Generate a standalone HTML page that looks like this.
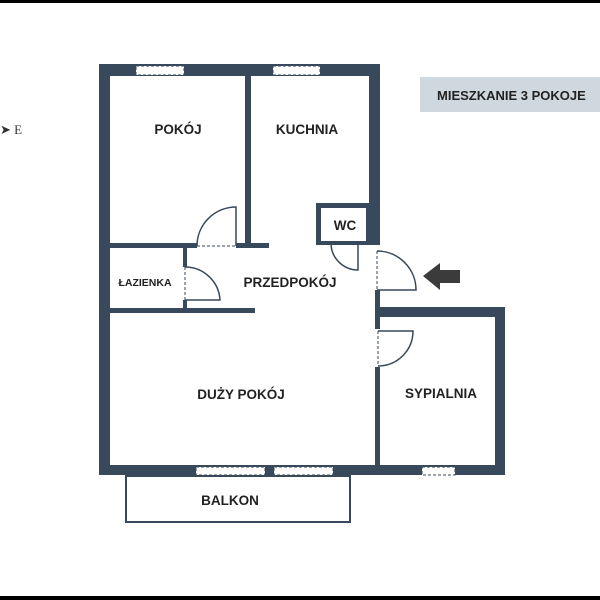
<!DOCTYPE html>
<html><head><style>body{margin:0;background:#fff}svg{display:block}</style></head><body>
<svg width="600" height="600" viewBox="0 0 600 600" xmlns="http://www.w3.org/2000/svg" font-family="Liberation Sans, sans-serif">
<rect width="600" height="600" fill="#fff"/>
<rect x="0" y="0" width="600" height="3" fill="#000"/>
<rect x="0" y="596" width="600" height="4" fill="#000"/>
<g fill="#37495a">
<rect x="99" y="64" width="281" height="12"/>
<rect x="99" y="64" width="11" height="411"/>
<rect x="369" y="64" width="11" height="181"/>
<rect x="375" y="290" width="5" height="185"/>
<rect x="375" y="307" width="130" height="10"/>
<rect x="495" y="307" width="10" height="168"/>
<rect x="99" y="465" width="406" height="10"/>
<rect x="245" y="76" width="6" height="170"/>
<rect x="110" y="243" width="159" height="5"/>
<rect x="183" y="245" width="4" height="68"/>
<rect x="110" y="308" width="145" height="5"/>
<rect x="316" y="203" width="54" height="42"/>
</g>
<rect x="321" y="208" width="45" height="33" fill="#fff"/>
<rect x="375" y="245" width="5" height="45" fill="#fff"/>
<g fill="#fff" stroke="#37495a" stroke-width="1" stroke-dasharray="3,2">
<rect x="136" y="66" width="48" height="9"/>
<rect x="273" y="66" width="47" height="9"/>
<rect x="196" y="467" width="69" height="8"/>
<rect x="274" y="467" width="59" height="8"/>
<rect x="422" y="467" width="33" height="8"/>
</g>
<g fill="#fff">
<rect x="197" y="242" width="39" height="7"/>
<rect x="182" y="267" width="6" height="33"/>
<rect x="375" y="329" width="6" height="38"/>
</g>
<g fill="none" stroke="#37495a" stroke-width="1.5">
<path d="M197 246 A39 39 0 0 1 236 207 V246"/>
<path d="M185 267 A35 35 0 0 1 220 300 H185"/>
<path d="M331 243 A27 27 0 0 0 358 270 V243"/>
<path d="M377 251 A39 39 0 0 1 416 290 H377"/>
<path d="M378 331 H413 A35 35 0 0 1 378 366"/>
</g>
<g fill="none" stroke="#37495a" stroke-width="1" stroke-dasharray="3,2">
<path d="M197 246 H236"/><path d="M185 267 V300"/><path d="M331 243 H358"/>
<path d="M377 251 V290"/><path d="M378 331 V366"/>
</g>
<rect x="126" y="476" width="224" height="46" fill="none" stroke="#37495a" stroke-width="2"/>
<path d="M423 276 L440 263 V270 H460 V283 H440 V290 Z" fill="#3b3b3b"/>
<rect x="420" y="77" width="180" height="35" fill="#cfd8df"/>
<g font-weight="bold" fill="#222" font-size="13.5">
<text x="437" y="100" font-size="13">MIESZKANIE 3 POKOJE</text>
<text x="178" y="134" text-anchor="middle">POKÓJ</text>
<text x="307" y="134" text-anchor="middle">KUCHNIA</text>
<text x="345" y="230" text-anchor="middle">WC</text>
<text x="145" y="286" text-anchor="middle" font-size="10.5">ŁAZIENKA</text>
<text x="290" y="287" text-anchor="middle">PRZEDPOKÓJ</text>
<text x="241" y="399" text-anchor="middle">DUŻY POKÓJ</text>
<text x="441" y="398" text-anchor="middle">SYPIALNIA</text>
<text x="230" y="505" text-anchor="middle">BALKON</text>
</g>
<text x="0" y="134" font-family="Liberation Serif, serif" font-size="13" fill="#333">➤ E</text>
</svg>
</body></html>
